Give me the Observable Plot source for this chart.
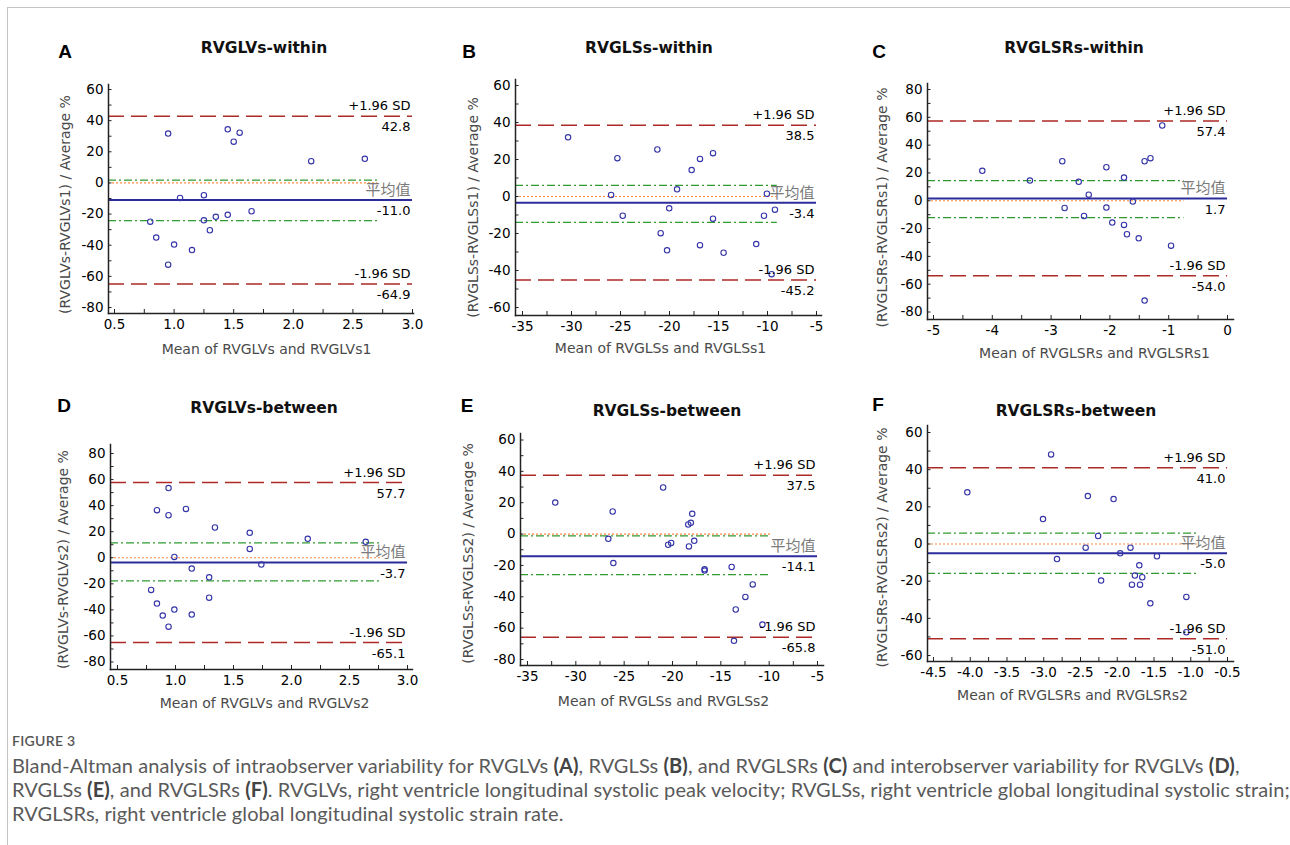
<!DOCTYPE html>
<html>
<head>
<meta charset="utf-8">
<script src="https://cdn.jsdelivr.net/npm/d3@7"></script>
<script src="https://cdn.jsdelivr.net/npm/@observablehq/plot@0.6"></script>
<style>
  html, body { margin: 0; padding: 0; background: #fff; }
  body { width: 1290px; height: 845px; overflow: hidden; position: relative; }
  #border { position: absolute; left: 7px; top: 7px; width: 1290px; height: 845px;
            border-left: 1px solid #c4c4c4; border-top: 1px solid #c4c4c4; }
  .panel { position: absolute; }
  .letter { position: absolute; font: bold 19px "Liberation Sans", Arial, sans-serif; color: #000;
            transform: translate(-50%, -50%); }
  .title { position: absolute; font: bold 15.5px "DejaVu Sans", sans-serif; color: #111;
           transform: translate(-50%, -50%); white-space: nowrap; }
  #fig { position: absolute; left: 12px; top: 732px; font: 600 14px Lato, sans-serif;
         letter-spacing: 0.3px; color: #555; }
  #cap { position: absolute; left: 12px; top: 753px; font: 20px/24px Lato, sans-serif;
         letter-spacing: 0.08px; color: #5a5a5a; white-space: nowrap; }
  #cap b { color: #444; }
</style>
</head>
<body>
<div id="border"></div>
<div id="fig">FIGURE 3</div>
<div id="cap">Bland-Altman analysis of intraobserver variability for RVGLVs <b>(A)</b>, RVGLSs <b>(B)</b>, and RVGLSRs <b>(C)</b> and interobserver variability for RVGLVs <b>(D)</b>,<br>RVGLSs <b>(E)</b>, and RVGLSRs <b>(F)</b>. RVGLVs, right ventricle longitudinal systolic peak velocity; RVGLSs, right ventricle global longitudinal systolic strain;<br>RVGLSRs, right ventricle global longitudinal systolic strain rate.</div>
<script>
// ---------------- data ----------------
const panelLetters = ["A", "B", "C", "D", "E", "F"];
const panelTitles = ["RVGLVs-within", "RVGLSs-within", "RVGLSRs-within",
                     "RVGLVs-between", "RVGLSs-between", "RVGLSRs-between"];
const xLabels = ["Mean of RVGLVs and RVGLVs1", "Mean of RVGLSs and RVGLSs1", "Mean of RVGLSRs and RVGLSRs1",
                 "Mean of RVGLVs and RVGLVs2", "Mean of RVGLSs and RVGLSs2", "Mean of RVGLSRs and RVGLSRs2"];
const yLabels = ["(RVGLVs-RVGLVs1) / Average %", "(RVGLSs-RVGLSs1) / Average %", "(RVGLSRs-RVGLSRs1) / Average %",
                 "(RVGLVs-RVGLVs2) / Average %", "(RVGLSs-RVGLSs2) / Average %", "(RVGLSRs-RVGLSRs2) / Average %"];

const aMean = [0.95, 1.45, 1.55, 1.50, 2.15, 2.60, 1.05, 1.25, 1.65, 1.25, 1.35, 1.45, 1.30, 0.80, 0.85, 1.00, 1.15, 0.95];
const aDiff = [31.7, 34.4, 32.3, 26.5, 14.0, 15.5, -9.6, -7.9, -18.2, -24.0, -21.8, -20.5, -30.4, -24.9, -35.1, -39.6, -43.1, -52.5];

const bMean = [-30.35, -25.32, -21.24, -16.89, -15.56, -17.74, -19.23, -25.96, -10.06, -24.77, -20.03, -15.56, -10.36, -9.24, -20.9, -20.25, -16.89, -14.48, -11.15, -9.58];
const bDiff = [32.0, 20.7, 25.4, 20.3, 23.4, 14.3, 3.9, 0.8, 1.5, -10.4, -6.4, -12.0, -10.4, -7.1, -19.8, -29.1, -26.3, -30.4, -25.7, -42.0];

const cMean = [-4.17, -3.36, -2.81, -2.53, -2.36, -2.77, -2.44, -2.06, -2.06, -1.76, -1.61, -1.96, -1.76, -1.71, -1.51, -1.41, -1.31, -1.11, -0.96, -1.41];
const cDiff = [21.5, 14.5, 28.4, 13.6, 4.4, -5.2, -10.9, 24.1, -4.9, 16.7, -0.6, -15.7, -17.4, -24.1, -27.0, 28.4, 30.6, 54.1, -32.3, -71.8];

const dMean = [0.94, 0.84, 0.94, 1.09, 1.34, 1.64, 1.64, 2.14, 2.64, 0.99, 1.14, 1.74, 1.29, 0.79, 0.84, 0.99, 1.29, 0.89, 1.14, 0.94];
const dDiff = [53.5, 36.5, 32.6, 37.5, 23.2, 19.1, 6.8, 14.5, 12.2, 0.6, -8.3, -5.2, -15.0, -24.7, -35.2, -39.8, -30.6, -44.4, -43.6, -52.9];

const eMean = [-32.13, -26.19, -20.97, -26.64, -26.12, -20.45, -20.14, -18.37, -18.10, -17.96, -18.30, -17.75, -16.68, -16.68, -13.88, -11.70, -12.46, -13.46, -10.70, -13.64];
const eDiff = [20.1, 14.4, 29.7, -3.0, -18.5, -6.8, -5.7, 6.1, 7.2, 12.9, -7.9, -4.3, -22.5, -23.3, -21.0, -32.1, -40.1, -48.1, -57.7, -68.1];

const fMean = [-4.04, -2.90, -3.01, -2.40, -2.05, -2.26, -2.43, -2.82, -2.22, -1.82, -1.96, -1.46, -1.70, -1.76, -1.66, -1.80, -1.69, -1.55, -1.06, -1.06];
const fDiff = [27.8, 48.2, 13.4, 25.8, 24.2, 4.3, -2.0, -8.1, -19.7, -2.0, -5.0, -6.6, -11.5, -17.0, -17.9, -21.9, -21.9, -31.9, -28.5, -47.5];

const upperLoA = [42.8, 38.5, 57.4, 57.7, 37.5, 41.0];
const meanDiff = [-11.0, -3.4, 1.7, -3.7, -14.1, -5.0];
const lowerLoA = [-64.9, -45.2, -54.0, -65.1, -65.8, -51.0];
const ciHigh = [1.8, 6.0, 14.5, 11.4, -1.1, 5.9];
const ciLow = [-24.2, -14.0, -12.1, -17.8, -25.9, -15.8];
const refLineEnd = [2.71, -9.0, -0.74, 2.77, -9.84, -0.91];

const xTickLabels = [
  [0.5, 1.0, 1.5, 2.0, 2.5, 3.0],
  [-35, -30, -25, -20, -15, -10, -5],
  [-5, -4, -3, -2, -1, 0],
  [0.5, 1.0, 1.5, 2.0, 2.5, 3.0],
  [-35, -30, -25, -20, -15, -10, -5],
  [-4.5, -4.0, -3.5, -3.0, -2.5, -2.0, -1.5, -1.0, -0.5]
];
const xTickDecimals = [1, 0, 0, 1, 0, 1];
const yTickLabels = [
  [-80, -60, -40, -20, 0, 20, 40, 60],
  [-60, -40, -20, 0, 20, 40, 60],
  [-80, -60, -40, -20, 0, 20, 40, 60, 80],
  [-80, -60, -40, -20, 0, 20, 40, 60, 80],
  [-80, -60, -40, -20, 0, 20, 40, 60],
  [-60, -40, -20, 0, 20, 40, 60]
];

const means = [aMean, bMean, cMean, dMean, eMean, fMean];
const diffs = [aDiff, bDiff, cDiff, dDiff, eDiff, fDiff];

// ---------------- layout (page pixels) ----------------
const layout = [
  {left: 20,  top: 20,  width: 410, height: 350, fl: 108, fr: 413, ft: 84,  fb: 313, xi: [6, 1], yi: [5, 6],   letter: [65, 52],  title: [264, 48],  yl: [65, 204],  xl: [266, 349]},
  {left: 435, top: 20,  width: 400, height: 350, fl: 515, fr: 821, ft: 79,  fb: 315, xi: [7, 5], yi: [6, 8],   letter: [469, 52], title: [649, 48],  yl: [473, 207], xl: [660, 348]},
  {left: 840, top: 20,  width: 410, height: 350, fl: 927, fr: 1233, ft: 83, fb: 319, xi: [6, 6], yi: [6, 7.5], letter: [879, 52], title: [1074, 48], yl: [882, 207], xl: [1094, 353]},
  {left: 20,  top: 380, width: 410, height: 345, fl: 110, fr: 412, ft: 444, fb: 669, xi: [7, 5], yi: [9, 7.5], letter: [64, 406], title: [264, 408], yl: [63, 559],  xl: [264, 703]},
  {left: 435, top: 380, width: 400, height: 345, fl: 520, fr: 823, ft: 433, fb: 665, xi: [7, 6], yi: [6.5, 6], letter: [467, 406], title: [667, 411], yl: [468, 553], xl: [663, 701]},
  {left: 840, top: 380, width: 410, height: 345, fl: 927, fr: 1233, ft: 425, fb: 661, xi: [6, 6], yi: [7, 6], letter: [878, 405], title: [1076, 411], yl: [882, 547], xl: [1072, 695]}
];

const RED = "#ad2a26", GREEN = "#2f9a2f", ORANGE = "#ff8a3d", BLUE = "#2c2c9c", PT = "#3434a8", AXIS = "#222";

function midpoints(arr) {
  const out = [];
  for (let k = 0; k < arr.length - 1; k++) out.push((arr[k] + arr[k + 1]) / 2);
  return out;
}
const fmtVal = v => v.toFixed(1);

function drawPanel(i) {
  const L = layout[i];
  const ml = L.fl - L.left, mr = L.left + L.width - L.fr;
  const mt = L.ft - L.top, mb = L.top + L.height - L.fb;
  const fw = L.fr - L.fl, fh = L.fb - L.ft;
  const xt = xTickLabels[i], yt = yTickLabels[i];
  const xmin = xt[0], xmax = xt[xt.length - 1];
  const ymin = yt[0], ymax = yt[yt.length - 1];
  const dec = xTickDecimals[i];
  const pts = means[i].map((m, k) => ({x: m, y: diffs[i][k]}));
  const midY = (L.ft + L.fb) / 2, midX = (L.fl + L.fr) / 2;
  const ext = -L.xi[0];  // extend horizontal lines to the y-axis line

  const sdAbove = [{v: upperLoA[i], t: "+1.96 SD"}, {v: lowerLoA[i], t: "-1.96 SD"}];
  const valBelow = [upperLoA[i], meanDiff[i], lowerLoA[i]];

  const svg = Plot.plot({
    width: L.width, height: L.height,
    marginLeft: ml, marginRight: mr, marginTop: mt, marginBottom: mb,
    style: {fontFamily: "'DejaVu Sans', sans-serif", fontSize: "13px", color: "#000", background: "transparent", overflow: "visible"},
    x: {domain: [xmin, xmax], insetLeft: L.xi[0], insetRight: L.xi[1]},
    y: {domain: [ymin, ymax], insetTop: L.yi[0], insetBottom: L.yi[1]},
    marks: [
      Plot.ruleY([upperLoA[i], lowerLoA[i]], {y: d => d, x1: xmin, x2: xmax, insetLeft: ext, stroke: RED, strokeWidth: 1.5, strokeDasharray: "16,7"}),
      Plot.ruleY([ciHigh[i], ciLow[i]], {y: d => d, x1: xmin, x2: refLineEnd[i], insetLeft: ext, stroke: GREEN, strokeWidth: 1.2, strokeDasharray: "8,3,2,3"}),
      Plot.ruleY([0], {y: d => d, x1: xmin, x2: refLineEnd[i], insetLeft: ext, stroke: ORANGE, strokeWidth: 1.2, strokeDasharray: "2,2"}),
      Plot.ruleY([meanDiff[i]], {y: d => d, x1: xmin, x2: xmax, insetLeft: ext, stroke: BLUE, strokeWidth: 2}),
      Plot.dot(pts, {x: "x", y: "y", r: 2.7, stroke: PT, strokeWidth: 1.1, fill: "none"}),
      Plot.text(sdAbove, {x: xmax, y: "v", text: "t", textAnchor: "end", dx: -2, dy: -10, fill: "#000"}),
      Plot.text([meanDiff[i]], {x: xmax, y: d => d, text: () => "平均值", textAnchor: "end", dx: -2, dy: -10,
                                fill: "#7a7a7a", fontFamily: "'Noto Sans CJK SC', sans-serif", fontSize: 15}),
      Plot.text(valBelow, {x: xmax, y: d => d, text: d => fmtVal(d), textAnchor: "end", dx: -2, dy: 11, fill: "#000"}),
      Plot.frame({anchor: "left", stroke: AXIS, strokeWidth: 1.5}),
      Plot.frame({anchor: "bottom", stroke: AXIS, strokeWidth: 1.5}),
      Plot.tickY([...yt, ...midpoints(yt)], {y: d => d, insetRight: fw - 3.5, stroke: AXIS, strokeWidth: 1}),
      Plot.tickX([...xt, ...midpoints(xt)], {x: d => d, insetTop: fh - 4, stroke: AXIS, strokeWidth: 1}),
      Plot.axisY({ticks: yt, tickSize: 0, tickPadding: 5, tickFormat: d => String(d), label: null, fontSize: 13.5}),
      Plot.axisX({ticks: xt, tickSize: 0, tickPadding: 6, tickFormat: d => d.toFixed(dec), label: null, fontSize: 13.5}),
      Plot.text([xLabels[i]], {frameAnchor: "bottom", text: d => d, textAnchor: "middle", lineAnchor: "middle",
                               dx: L.xl[0] - midX, dy: L.xl[1] - L.fb, fill: "#4a4a4a", fontSize: 14}),
      Plot.text([yLabels[i]], {frameAnchor: "left", text: d => d, rotate: -90, textAnchor: "middle", lineAnchor: "middle",
                               dx: L.yl[0] - L.fl, dy: L.yl[1] - midY, fill: "#4a4a4a", fontSize: 14})
    ]
  });

  const box = document.createElement("div");
  box.className = "panel";
  box.style.left = L.left + "px";
  box.style.top = L.top + "px";
  box.style.width = L.width + "px";
  box.style.height = L.height + "px";
  box.appendChild(svg);
  document.body.appendChild(box);

  const letter = document.createElement("div");
  letter.className = "letter";
  letter.textContent = panelLetters[i];
  letter.style.left = L.letter[0] + "px";
  letter.style.top = L.letter[1] + "px";
  document.body.appendChild(letter);

  const title = document.createElement("div");
  title.className = "title";
  title.textContent = panelTitles[i];
  title.style.left = L.title[0] + "px";
  title.style.top = L.title[1] + "px";
  document.body.appendChild(title);
}

for (let i = 0; i < 6; i++) drawPanel(i);
</script>
</body>
</html>
